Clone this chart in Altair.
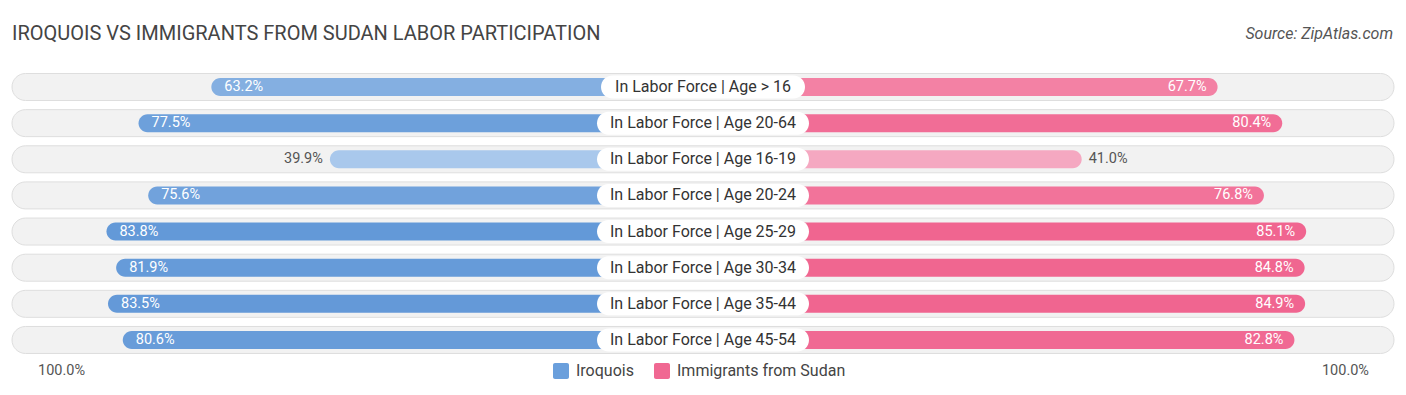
import altair as alt
import pandas as pd

categories = [
    "In Labor Force | Age > 16",
    "In Labor Force | Age 20-64",
    "In Labor Force | Age 16-19",
    "In Labor Force | Age 20-24",
    "In Labor Force | Age 25-29",
    "In Labor Force | Age 30-34",
    "In Labor Force | Age 35-44",
    "In Labor Force | Age 45-54",
]
iroquois = [63.2, 77.5, 39.9, 75.6, 83.8, 81.9, 83.5, 80.6]
sudan = [67.7, 80.4, 41.0, 76.8, 85.1, 84.8, 84.9, 82.8]

TITLE = "IROQUOIS VS IMMIGRANTS FROM SUDAN LABOR PARTICIPATION"
SOURCE = "Source: ZipAtlas.com"
FONT = "Roboto"

W, H = 1390, 379
PX = 5.09            # pixels per percent
OFF = 170 / PX       # hidden part of the bar behind the centre label
HALF = (W / 2) / PX  # x domain half-width
ROW0, ROWSTEP = 79.0, 36.14
ymin = -ROW0 / ROWSTEP
ymax = (H - ROW0) / ROWSTEP

xs = alt.Scale(domain=[-HALF, HALF], nice=False, zero=False, padding=0)
ys = alt.Scale(domain=[ymin, ymax], reverse=True, nice=False, zero=False, padding=0)

df = pd.DataFrame({
    "cat": categories,
    "row": list(range(len(categories))),
    "iro": iroquois,
    "sud": sudan,
})
df["l_start"] = -OFF - df["iro"]
df["r_end"] = OFF + df["sud"]
df["zero"] = 0.0
df["bg_l"] = -(W / 2 - 4) / PX
df["bg_r"] = (W / 2 - 4) / PX
pw = df["cat"].str.len() * 8.0 + 4
df["p_l"] = -(pw / 2) / PX
df["p_r"] = (pw / 2) / PX
df["iro_lab"] = df["iro"].map(lambda v: f"{v:.1f}%")
df["sud_lab"] = df["sud"].map(lambda v: f"{v:.1f}%")

Y = alt.Y("row:Q", scale=ys, axis=None)

bg = alt.Chart(df).mark_bar(
    height=27, cornerRadius=13.5, fill="#f2f2f2", stroke="#dedede", strokeWidth=1
).encode(x=alt.X("bg_l:Q", scale=xs, axis=None), x2="bg_r:Q", y=Y)

left = alt.Chart(df).mark_bar(height=18, cornerRadius=9).encode(
    x=alt.X("l_start:Q", scale=xs, axis=None), x2="zero:Q", y=Y,
    color=alt.Color("iro:Q", scale=alt.Scale(domain=[39.9, 83.8], range=["#a9c8ec", "#6399d8"]), legend=None),
)
right = alt.Chart(df).mark_bar(height=18, cornerRadius=9).encode(
    x=alt.X("zero:Q", scale=xs, axis=None), x2="r_end:Q", y=Y,
    color=alt.Color("sud:Q", scale=alt.Scale(domain=[41.0, 85.1], range=["#f5a8c1", "#f06590"]), legend=None),
)

pill = alt.Chart(df).mark_bar(height=23, cornerRadius=11.5, fill="white").encode(
    x=alt.X("p_l:Q", scale=xs, axis=None), x2="p_r:Q", y=Y
)
ptext = alt.Chart(df).mark_text(font=FONT, fontSize=16, color="#333333", align="center", baseline="middle").encode(
    x=alt.X("zero:Q", scale=xs, axis=None), y=Y, text="cat:N"
)

l_in = alt.Chart(df).transform_filter("datum.iro >= 50").mark_text(
    font=FONT, fontSize=14.5, color="white", align="left", baseline="middle", dx=13
).encode(x=alt.X("l_start:Q", scale=xs, axis=None), y=Y, text="iro_lab:N")
l_out = alt.Chart(df).transform_filter("datum.iro < 50").mark_text(
    font=FONT, fontSize=14.5, color="#555555", align="right", baseline="middle", dx=-7
).encode(x=alt.X("l_start:Q", scale=xs, axis=None), y=Y, text="iro_lab:N")
r_in = alt.Chart(df).transform_filter("datum.sud >= 50").mark_text(
    font=FONT, fontSize=14.5, color="white", align="right", baseline="middle", dx=-11
).encode(x=alt.X("r_end:Q", scale=xs, axis=None), y=Y, text="sud_lab:N")
r_out = alt.Chart(df).transform_filter("datum.sud < 50").mark_text(
    font=FONT, fontSize=14.5, color="#555555", align="left", baseline="middle", dx=7
).encode(x=alt.X("r_end:Q", scale=xs, axis=None), y=Y, text="sud_lab:N")

one = pd.DataFrame({"k": [0]})
title = alt.Chart(one).mark_text(font=FONT, fontSize=20, color="#444444", align="left", baseline="middle", text=TITLE).encode(
    x=alt.value(4), y=alt.value(26))
source = alt.Chart(one).mark_text(font=FONT, fontSize=16, fontStyle="italic", color="#555555", align="right", baseline="middle", text=SOURCE).encode(
    x=alt.value(1385), y=alt.value(26))
lo = alt.Chart(one).mark_text(font=FONT, fontSize=14.5, color="#555555", align="left", baseline="middle", text="100.0%").encode(
    x=alt.value(30), y=alt.value(363))
hi = alt.Chart(one).mark_text(font=FONT, fontSize=14.5, color="#555555", align="right", baseline="middle", text="100.0%").encode(
    x=alt.value(1361), y=alt.value(363))
sq1 = alt.Chart(one).mark_rect(color="#6a9fdc", cornerRadius=2).encode(
    x=alt.value(545), x2=alt.value(561), y=alt.value(355), y2=alt.value(371))
sq2 = alt.Chart(one).mark_rect(color="#f06892", cornerRadius=2).encode(
    x=alt.value(646), x2=alt.value(662), y=alt.value(355), y2=alt.value(371))
t1 = alt.Chart(one).mark_text(font=FONT, fontSize=16, color="#444444", align="left", baseline="middle", text="Iroquois").encode(
    x=alt.value(568), y=alt.value(363))
t2 = alt.Chart(one).mark_text(font=FONT, fontSize=16, color="#444444", align="left", baseline="middle", text="Immigrants from Sudan").encode(
    x=alt.value(669), y=alt.value(363))

chart = alt.layer(
    bg, left, right, pill, ptext, l_in, l_out, r_in, r_out,
    title, source, lo, hi, sq1, sq2, t1, t2
).resolve_scale(color="independent").properties(
    width=W, height=H, padding=0, autosize=alt.AutoSizeParams(type="none")
).configure_view(stroke=None)

chart.save("out.html", embed_options={"renderer": "svg", "actions": False})
